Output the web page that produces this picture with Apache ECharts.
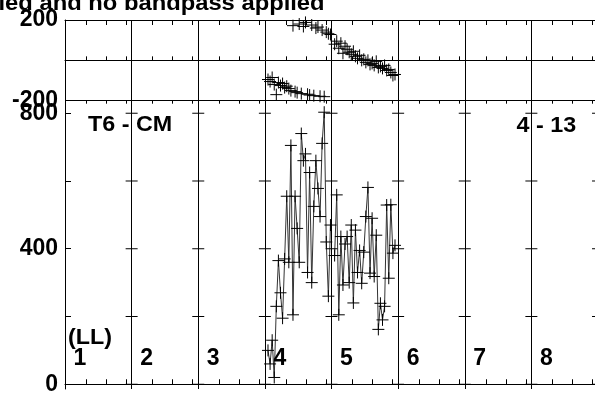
<!DOCTYPE html>
<html><head><meta charset="utf-8">
<script src="https://cdn.jsdelivr.net/npm/echarts@6/dist/echarts.min.js"></script>
<style>html,body{margin:0;padding:0;background:#fff}#c{width:595px;height:397px}</style>
</head><body><div id="c"></div>
<script>
// ---- data ----
const ifLabels = ['1','2','3','4','5','6','7','8'];
const chansPerIF = 32;
const if4Channels = [2,3,4,5,6,7,8,9,10,11,12,13,14,15,16,17,18,19,20,21,22,23,24,25,26,27,28,29,30,31,32];
const if4Amp = [100,60,130,20,230,365,270,195,370,555,360,705,205,555,460,360,740,660,680,330,625,300,525,660,578,495,711,803,420,260,470];
const if4Phase = [-95,-105,-85,-120,-170,-110,-125,-115,-135,-128,-140,-150,172,-155,-160,180,-165,168,188,-168,-172,175,-175,160,165,-178,150,-180,140,132,128];
const if5Channels = [2,3,4,5,6,7,8,9,10,11,12,13,14,15,16,17,18,19,20,21,22,23,24,25,26,27,28,29,30,31];
const if5Amp = [380,559,205,436,293,414,436,300,470,240,455,330,395,298,390,495,581,328,490,318,440,162,239,190,230,529,313,530,387,410];
const if5Phase = [80,95,60,85,35,70,55,40,30,45,20,10,25,0,5,-10,0,-20,-15,-25,-5,-35,-30,-40,-25,-50,-45,-60,-75,-70];
const phaseLabels = [-200, 200];
const ampLabels = [0, 400, 800];
const ampTicks = [0, 200, 400, 600, 800];
const chanTicks = [10.1, 19.7, 29.3];
const titleText = 'ied and no bandpass applied';
const baselineText = 'T6 - CM';
const scanText = '4 - 13';
const polText = '(LL)';

// ---- helpers ----
const nIF = ifLabels.length;
const xMax = nIF * chansPerIF;
const toX = (ifIdx, c) => ifIdx * chansPerIF + c - 0.5;
const pts = (ifIdx, chans, vals) => chans.map((c, i) => [toX(ifIdx, c), vals[i]]);
const dividers = []; for (let i = 1; i <= nIF; i++) dividers.push(i * chansPerIF);
const minorTicks = []; for (let i = 0; i < nIF; i++) chanTicks.forEach(t => minorTicks.push(i * chansPerIF + t));
const crossPts = []; dividers.forEach(d => ampTicks.forEach(v => crossPts.push([d, v])));
const ifLabelPts = ifLabels.map((l, i) => ({value: [i * chansPerIF + 7.2, 75], name: l}));

const FONT = '"Liberation Sans", Arial, Helvetica, sans-serif';
const plus = 'path://M0,6L12,6M6,0L6,12';
const crossStyle = {color: 'transparent', borderColor: '#000', borderWidth: 1, opacity: 1};
const divLine = {silent: true, symbol: ['none','none'], label: {show: false},
  lineStyle: {color: '#000', width: 1, type: 'solid', opacity: 1}, emphasis: {disabled: true},
  data: dividers.slice(0, -1).map(d => ({xAxis: d}))};

const xBase = {type: 'value', min: 0, max: xMax, axisLabel: {show: false}, splitLine: {show: false},
  axisLine: {show: true, lineStyle: {color: '#000', width: 1}},
  axisTick: {show: true, inside: true, length: 5, customValues: minorTicks, lineStyle: {color: '#000'}}};

const chart = echarts.init(document.getElementById('c'), null, {renderer: 'canvas'});
chart.setOption({
  animation: false,
  backgroundColor: '#fff',
  grid: [
    {left: 65, top: 20, width: 533, height: 80.7, outerBoundsMode: 'none', containLabel: false},
    {left: 65, top: 100.7, width: 533, height: 288.3, outerBoundsMode: 'none', containLabel: false}
  ],
  xAxis: [
    Object.assign({}, xBase, {gridIndex: 0, position: 'bottom', axisTick: Object.assign({}, xBase.axisTick, {length: 4})}),
    Object.assign({}, xBase, {gridIndex: 0, position: 'top'}),
    Object.assign({}, xBase, {gridIndex: 1, position: 'bottom'}),
    Object.assign({}, xBase, {gridIndex: 1, position: 'top', axisLine: {show: false}, axisTick: Object.assign({}, xBase.axisTick, {length: 3})})
  ],
  yAxis: [
    {type: 'value', gridIndex: 0, min: -200, max: 200, interval: 200,
     axisLine: {show: true, lineStyle: {color: '#000'}}, axisTick: {show: false},
     splitLine: {show: true, lineStyle: {color: '#000', width: 1}},
     axisLabel: {customValues: phaseLabels, color: '#000', fontFamily: FONT, fontWeight: 'bold', fontSize: 23, margin: 7}},
    {type: 'value', gridIndex: 1, min: -14, max: 837,
     axisLine: {show: true, lineStyle: {color: '#000'}},
     axisTick: {show: true, inside: true, length: 6, customValues: ampTicks, lineStyle: {color: '#000'}},
     splitLine: {show: false},
     axisLabel: {customValues: ampLabels, color: '#000', fontFamily: FONT, fontWeight: 'bold', fontSize: 23, margin: 7}}
  ],
  series: [
    {type: 'scatter', name: 'phase IF4', xAxisIndex: 0, yAxisIndex: 0, data: pts(3, if4Channels, if4Phase),
     symbol: plus, symbolSize: 12, itemStyle: crossStyle, markLine: divLine, z: 3},
    {type: 'scatter', name: 'phase IF5', xAxisIndex: 0, yAxisIndex: 0, data: pts(4, if5Channels, if5Phase),
     symbol: plus, symbolSize: 12, itemStyle: crossStyle, z: 3},
    {type: 'line', name: 'amp IF4', xAxisIndex: 2, yAxisIndex: 1, data: pts(3, if4Channels, if4Amp),
     showSymbol: false, lineStyle: {color: '#333', width: 1, opacity: 1}, markLine: divLine, z: 2},
    {type: 'line', name: 'amp IF5', xAxisIndex: 2, yAxisIndex: 1, data: pts(4, if5Channels, if5Amp),
     showSymbol: false, lineStyle: {color: '#333', width: 1, opacity: 1}, z: 2},
    {type: 'scatter', name: 'amp IF4 pts', xAxisIndex: 2, yAxisIndex: 1, data: pts(3, if4Channels, if4Amp),
     symbol: plus, symbolSize: 12, itemStyle: crossStyle, z: 3},
    {type: 'scatter', name: 'amp IF5 pts', xAxisIndex: 2, yAxisIndex: 1, data: pts(4, if5Channels, if5Amp),
     symbol: plus, symbolSize: 12, itemStyle: crossStyle, z: 3},
    {type: 'scatter', name: 'ticks', xAxisIndex: 2, yAxisIndex: 1, data: crossPts, silent: true,
     symbol: 'rect', symbolSize: [12, 1], itemStyle: {color: '#000', opacity: 1}, z: 2},
    {type: 'scatter', name: 'IF labels', xAxisIndex: 2, yAxisIndex: 1, data: ifLabelPts, silent: true,
     symbolSize: 1, itemStyle: {color: 'transparent', opacity: 1}, z: 4,
     label: {show: true, position: 'inside', formatter: '{b}', color: '#000', opacity: 1, fontFamily: FONT, fontWeight: 'bold', fontSize: 23}}
  ],
  graphic: [
    {type: 'text', x: -1.5, y: 4, scaleX: 1.08, z: 10, style: {text: titleText, fill: '#000', font: 'bold 22px ' + FONT, align: 'left', verticalAlign: 'middle'}},
    {type: 'text', x: 88, y: 125, scaleX: 1.06, z: 10, style: {text: baselineText, fill: '#000', font: 'bold 22px ' + FONT, align: 'left', verticalAlign: 'middle'}},
    {type: 'text', x: 516.5, y: 125.5, scaleX: 1.06, z: 10, style: {text: scanText, fill: '#000', font: 'bold 22px ' + FONT, align: 'left', verticalAlign: 'middle'}},
    {type: 'text', x: 68, y: 338, scaleX: 1.06, z: 10, style: {text: polText, fill: '#000', font: 'bold 22px ' + FONT, align: 'left', verticalAlign: 'middle'}}
  ]
});
</script></body></html>
